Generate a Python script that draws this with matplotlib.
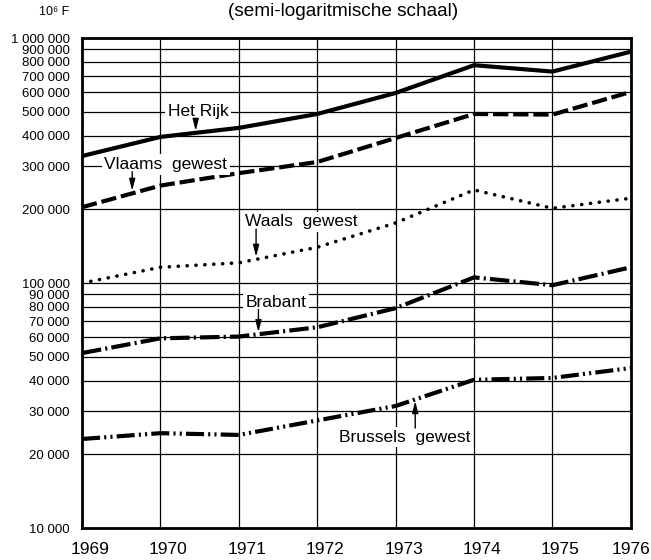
import matplotlib
matplotlib.use("Agg")
import matplotlib.pyplot as plt
import matplotlib.transforms as mtransforms
from matplotlib.ticker import FixedLocator, NullLocator

plt.rcParams['font.family'] = ['Liberation Sans', 'DejaVu Sans']
plt.rcParams['lines.scale_dashes'] = False

years = [1969, 1970, 1971, 1972, 1973, 1974, 1975, 1976]

het_rijk = [330000, 395000, 430000, 490000, 597000, 775000, 730000, 880000]
vlaams = [204000, 250000, 281000, 312000, 391000, 490000, 487000, 603000]
waals = [100000, 116000, 121000, 140000, 176000, 240000, 202000, 222000]
brabant = [51800, 59500, 60500, 66000, 79000, 105500, 98000, 116000]
brussels = [23100, 24400, 24000, 27500, 31500, 40300, 41000, 45000]

y_ticks = [10000, 20000, 30000, 40000, 50000, 60000, 70000, 80000, 90000,
           100000, 200000, 300000, 400000, 500000, 600000, 700000, 800000,
           900000, 1000000]


def fmt(v):
    return f"{v:,}".replace(",", " ")


fig = plt.figure(figsize=(6.51, 5.60), dpi=100)
ax = fig.add_axes([0.126, 0.057, 0.843, 0.875])

ax.set_yscale('log')
ax.set_xlim(1969, 1976)
ax.set_ylim(10000, 1000000)

# grid first, series on top
for yv in y_ticks:
    ax.axhline(yv, color='k', lw=0.9, zorder=1)
for xv in years:
    ax.axvline(xv, color='k', lw=0.9, zorder=1)

lw = 3.0
ax.plot(years, het_rijk, color='k', lw=lw, solid_capstyle='butt', zorder=3)
ax.plot(years, vlaams, color='k', lw=lw, dashes=(11, 3.5), zorder=3)
ax.plot(years, waals, color='k', lw=2.6, dashes=(0.1, 6.3),
        dash_capstyle='round', zorder=3)
ax.plot(years, brabant, color='k', lw=lw, dashes=(14, 3, 1.5, 3), zorder=3)
ax.plot(years, brussels, color='k', lw=lw,
        dashes=(13, 3, 1.5, 3, 1.5, 3), zorder=3)

# labels with arrows
box = dict(boxstyle='square,pad=0.15', fc='white', ec='none')
arrow = dict(arrowstyle='-|>,head_length=0.7,head_width=0.18', color='k',
             lw=1.0, shrinkA=0, shrinkB=0)
labels = [
    ("Het Rijk", 1970.48, 500000, 1970.45, 470000, 418000),
    ("Vlaams  gewest", 1970.07, 305000, 1969.64, 285000, 238000),
    ("Waals  gewest", 1971.79, 178000, 1971.22, 166000, 128000),
    ("Brabant", 1971.47, 83000, 1971.25, 78000, 63000),
    ("Brussels  gewest", 1973.12, 23500, 1973.25, 25600, 33000),
]
for txt, tx, ty, ax_x, a0, a1 in labels:
    ax.text(tx, ty, txt, ha='center', va='center', fontsize=12.5,
            bbox=box, zorder=4)
    ax.annotate('', xy=(ax_x, a1), xytext=(ax_x, a0), arrowprops=arrow,
                zorder=4)

ax.yaxis.set_major_locator(FixedLocator(y_ticks))
ax.yaxis.set_minor_locator(NullLocator())
ax.set_yticklabels([fmt(v) for v in y_ticks], fontsize=9.5)
ax.set_xticks(years)
ax.set_xticklabels([str(y) for y in years], fontsize=12.5)
ax.tick_params(length=0)
ax.tick_params(axis='y', pad=9)
ax.tick_params(axis='x', pad=10)

# year labels sit a little right of their gridline in the original
xlabs = ax.get_xticklabels()
for i, lab in enumerate(xlabs):
    dx = 0.08 if i < len(xlabs) - 1 else 0.0
    shift = mtransforms.ScaledTranslation(dx, 0, fig.dpi_scale_trans)
    lab.set_transform(lab.get_transform() + shift)

for s in ax.spines.values():
    s.set_linewidth(2)
    s.set_zorder(5)

fig.text(0.527, 0.979, "(semi-logaritmische schaal)", ha='center',
         va='center', fontsize=13.7)
fig.text(0.083, 0.979, "10⁶ F", ha='center', va='center', fontsize=9)

fig.savefig("out.png", dpi=100)
